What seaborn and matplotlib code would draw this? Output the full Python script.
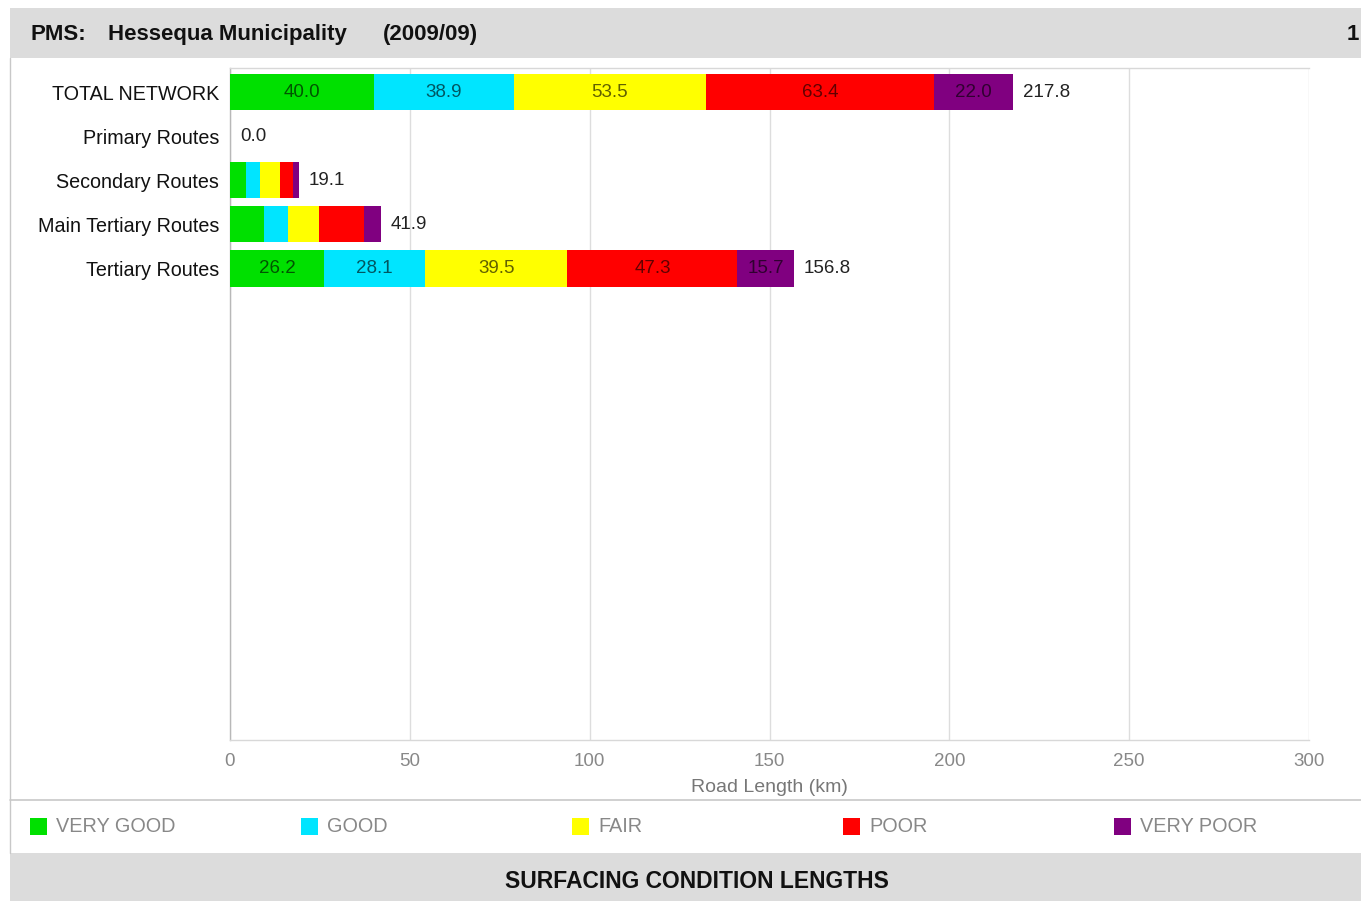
import numpy as np
import pandas as pd
import matplotlib
matplotlib.use("Agg")
import matplotlib.pyplot as plt
from matplotlib.patches import Rectangle
from matplotlib.lines import Line2D
import seaborn as sns

# Road categories (TOTAL NETWORK is the sum of the route classes)
routes = ["Primary Routes", "Secondary Routes", "Main Tertiary Routes", "Tertiary Routes"]
conditions = ["VERY GOOD", "GOOD", "FAIR", "POOR", "VERY POOR"]

# Surfaced road length per condition class (km)
very_good = [0.0, 4.4, 9.4, 26.2]
good = [0.0, 4.0, 6.8, 28.1]
fair = [0.0, 5.5, 8.5, 39.5]
poor = [0.0, 3.5, 12.6, 47.3]
very_poor = [0.0, 1.7, 4.6, 15.7]

colors = ["#00e000", "#00e5ff", "#ffff00", "#ff0000", "#800080"]

categories = ["TOTAL NETWORK"] + routes
values = np.array([very_good, good, fair, poor, very_poor])  # condition x route
values = np.column_stack([values.sum(axis=1), values])       # prepend total column
values = np.round(values, 1)
cum = np.cumsum(values, axis=0)
totals = cum[-1]

sns.set_theme(style="white")
plt.rcParams["font.family"] = ["Liberation Sans", "DejaVu Sans"]

W, H = 1361, 901
fig = plt.figure(figsize=(W / 100, H / 100), dpi=100)
fig.patch.set_facecolor("white")

def fx(px):
    return px / W

def fy(py):
    return 1 - py / H

# Header and footer bands
fig.patches.append(Rectangle((fx(10), fy(58)), fx(W - 10), (58 - 8) / H,
                             transform=fig.transFigure, facecolor="#dcdcdc",
                             edgecolor="none", zorder=0))
fig.patches.append(Rectangle((fx(10), 0), fx(W - 10), (H - 853) / H,
                             transform=fig.transFigure, facecolor="#dcdcdc",
                             edgecolor="none", zorder=0))
fig.lines.append(Line2D([fx(10), fx(10)], [fy(853), fy(58)], transform=fig.transFigure,
                        color="#c8c8c8", lw=1))
fig.lines.append(Line2D([fx(10), 1], [fy(800), fy(800)], transform=fig.transFigure,
                        color="#c8c8c8", lw=1.2))

title_kw = dict(fontsize=16, fontweight="bold", color="#111111", va="baseline", ha="left")
fig.text(fx(30), fy(40), "PMS:", **title_kw)
fig.text(fx(108), fy(40), "Hessequa Municipality", **title_kw)
fig.text(fx(383), fy(40), "(2009/09)", **title_kw)
fig.text(fx(1359), fy(40), "1", fontsize=16, fontweight="bold", color="#111111",
         va="baseline", ha="right")
fig.text(fx(697), fy(881), "SURFACING CONDITION LENGTHS", fontsize=16.5,
         fontweight="bold", color="#111111", va="center", ha="center")

# Main chart area
ax = fig.add_axes([fx(230), fy(740), fx(1309 - 230), (740 - 68) / H])
df_rows = []
for ci in range(len(conditions)):
    for ri, cat in enumerate(categories):
        df_rows.append({"category": cat, "condition": conditions[ci], "cum": cum[ci, ri]})
df = pd.DataFrame(df_rows)

# Stacked bars: draw cumulative totals from the outermost class inward
for ci in reversed(range(len(conditions))):
    sub = df[df["condition"] == conditions[ci]]
    sns.barplot(data=sub, x="cum", y="category", order=categories, orient="h",
                color=colors[ci], saturation=1, width=0.82, edgecolor="none",
                linewidth=0, ax=ax, zorder=3)

# Segment labels for wide enough segments
for ri in range(len(categories)):
    left = 0.0
    for ci in range(len(conditions)):
        v = values[ci, ri]
        if v >= 15:
            ax.text(left + v / 2, ri, f"{v:.1f}", ha="center", va="center",
                    fontsize=13.5, color="black", alpha=0.62, zorder=5)
        left += v
    ax.text(totals[ri] + 2.8, ri, f"{totals[ri]:.1f}", ha="left", va="center",
            fontsize=13.5, color="#222222", zorder=5)

ax.set_xlim(0, 300)
ax.set_ylim(14.7, -0.55)
ax.set_xticks(np.arange(0, 301, 50))
ax.set_xticklabels([str(t) for t in range(0, 301, 50)], fontsize=13.5, color="#888888")
ax.tick_params(axis="x", length=0, pad=9)
ax.tick_params(axis="y", length=0, pad=8, labelsize=14.2, labelcolor="#111111")
ax.set_ylabel("")
ax.set_xlabel("Road Length (km)", fontsize=14, color="#777777", labelpad=7)
ax.grid(axis="x", color="#dddddd", lw=1, zorder=0)
ax.set_axisbelow(True)
for side, sp in ax.spines.items():
    sp.set_visible(True)
    sp.set_color("#d8d8d8")
    sp.set_linewidth(1)
ax.spines["left"].set_color("#b8b8b8")
ax.spines["right"].set_visible(False)
ax.legend_ = None

# Legend row
for i, (name, c) in enumerate(zip(conditions, colors)):
    x0 = 30 + i * 271
    fig.patches.append(Rectangle((fx(x0), fy(835)), fx(17), 17 / H,
                                 transform=fig.transFigure, facecolor=c,
                                 edgecolor="none", zorder=3))
    fig.text(fx(x0 + 26), fy(826), name, fontsize=14.3, color="#888888",
             va="center", ha="left")

fig.savefig("out.png", dpi=100)
